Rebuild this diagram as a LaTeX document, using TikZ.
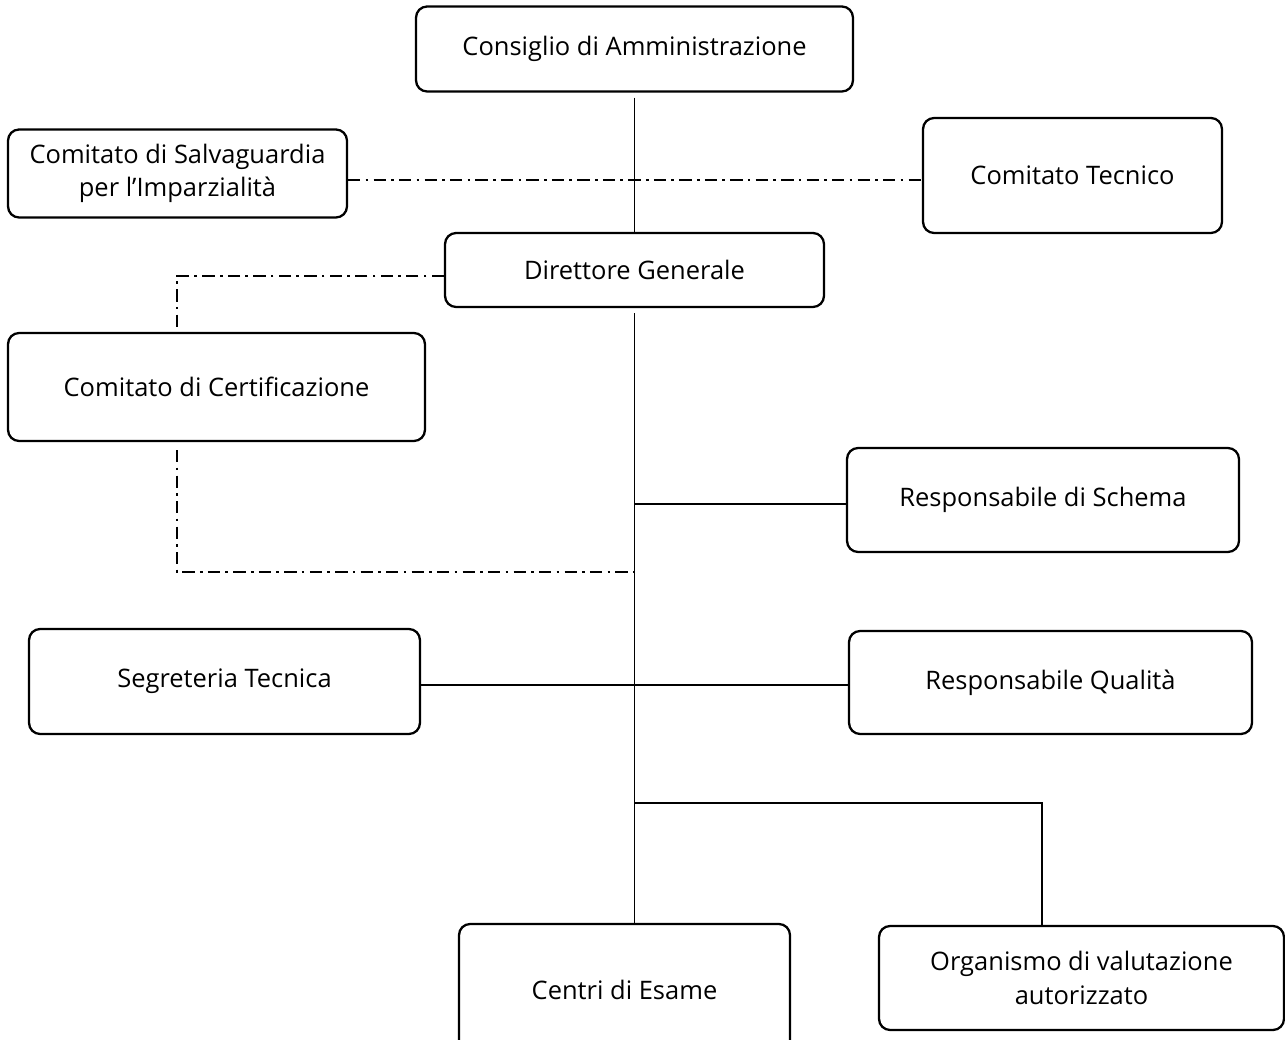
\documentclass[tikz,border=0pt]{standalone}
\usepackage{fontspec}
\setmainfont{Open Sans}
\usetikzlibrary{positioning,calc}

\begin{document}
\begin{tikzpicture}[
    x=0.02cm, y=-0.02cm,
    box/.style={rectangle, draw, line width=1.3pt, rounded corners=0.22cm, align=center, font=\fontsize{14.5}{19}\selectfont},
    link/.style={line width=1pt},
    dashdot/.style={line width=1pt, dash pattern=on 7pt off 3pt on 1.5pt off 3pt}
]
\useasboundingbox (0,0) rectangle (1285,1040);

% Top of the structure
\node[box, minimum width=8.74cm, minimum height=1.70cm] (cda) at (634.5,49) {Consiglio di Amministrazione};
\node[box, minimum width=7.58cm, minimum height=1.48cm] (dg) at (634.5,270) {Direttore Generale};

% Committees
\node[box, minimum width=6.78cm, minimum height=1.76cm] (csi) at (177.5,173.5) {Comitato di Salvaguardia\\per l’Imparzialità};
\node[box, minimum width=5.98cm, minimum height=2.30cm] (ct) at (1072.5,175.5) {Comitato Tecnico};
\node[box, minimum width=8.34cm, minimum height=2.16cm] (cc) at (216.5,387) {Comitato di Certificazione};

% Functions
\node[box, minimum width=7.84cm, minimum height=2.08cm] (rs) at (1043,500) {Responsabile di Schema};
\node[box, minimum width=7.82cm, minimum height=2.10cm] (st) at (224.5,681.5) {Segreteria Tecnica};
\node[box, minimum width=8.06cm, minimum height=2.06cm] (rq) at (1050.5,682.5) {Responsabile Qualità};

% Bottom row
\node[box, minimum width=6.62cm, minimum height=2.64cm] (ce) at (624.5,990) {Centri di Esame};
\node[box, minimum width=8.10cm, minimum height=2.08cm] (ova) at (1081.5,978) {Organismo di valutazione\\autorizzato};

% Junction points on the main line
\coordinate (trunk) at ([yshift=-0.1cm]dg.south);
\coordinate (certjoin) at (trunk |- 0,572);
\coordinate (ovajoin) at (trunk |- 0,803);

% Hierarchy lines
\draw[link] ([yshift=-0.1cm]cda.south) -- (dg.north);
\draw[link] (trunk) -- (trunk |- ce.north);
\draw[link] (trunk |- 0,504) -- (rs.west |- 0,504);
\draw[link] (st.east |- 0,685) -- (rq.west |- 0,685);
\draw[link] (ovajoin) -| ([xshift=3.28cm]ova.north west);

% Dash-dot relations
\draw[dashdot] (csi.east |- 0,180) -- (ct.west |- 0,180);
\draw[dashdot] (dg.west |- 0,276) -| ([xshift=3.4cm]cc.north west);
\draw[dashdot] ([xshift=3.4cm,yshift=-0.16cm]cc.south west) |- (certjoin);

\end{tikzpicture}
\end{document}
